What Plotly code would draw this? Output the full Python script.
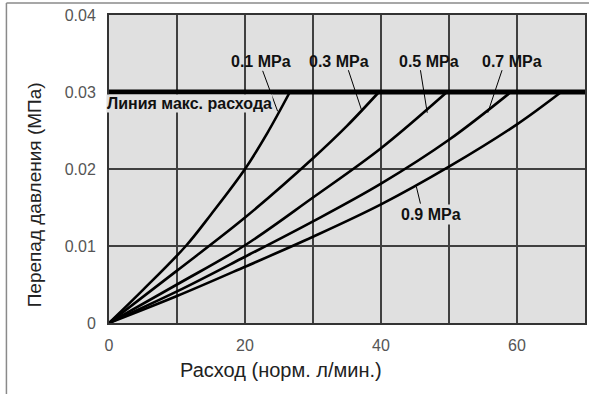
import plotly.graph_objects as go

# ---- data ----
x_01 = [0, 5, 11.3, 15, 20, 23.3, 26.6]
y_01 = [0, 0.0043, 0.0100, 0.0141, 0.0200, 0.0247, 0.0300]

x_03 = [0, 10, 20, 30, 35, 39.7]
y_03 = [0, 0.0068, 0.0137, 0.0214, 0.0256, 0.0300]

x_05 = [0, 10, 20, 30, 40, 49.7]
y_05 = [0, 0.0050, 0.0101, 0.0163, 0.0227, 0.0300]

x_07 = [0, 10, 20, 30, 40, 50, 59.1]
y_07 = [0, 0.0041, 0.0086, 0.0132, 0.0181, 0.0238, 0.0300]

x_09 = [0, 10, 20, 30, 40, 50, 60, 66.5]
y_09 = [0, 0.0035, 0.0073, 0.0112, 0.0154, 0.0203, 0.0258, 0.0300]

series_names = ["0.1 MPa", "0.3 MPa", "0.5 MPa", "0.7 MPa", "0.9 MPa"]
series_x = [x_01, x_03, x_05, x_07, x_09]
series_y = [y_01, y_03, y_05, y_07, y_09]

maxflow_x = [0, 70]
maxflow_y = [0.03, 0.03]
maxflow_label = "Линия макс. расхода"

x_tick_vals = [0, 10, 20, 30, 40, 50, 60, 70]
x_tick_text = ["0", "", "20", "", "40", "", "60", ""]
y_tick_vals = [0, 0.01, 0.02, 0.03, 0.04]
y_tick_text = ["0", "0.01", "0.02", "0.03", "0.04"]

x_title = "Расход (норм. л/мин.)"
y_title = "Перепад давления (МПа)"

# ---- layout constants ----
W, H = 591, 394
L, R, T, B = 109, 4, 15, 71
PW, PH = W - L - R, H - T - B
PLOT_BG = "#e0e0e0"
FONT = "Liberation Sans, Arial, sans-serif"

fig = go.Figure()

for name, xs, ys in zip(series_names, series_x, series_y):
    fig.add_trace(go.Scatter(x=xs, y=ys, mode="lines", name=name,
                             line=dict(color="#000000", width=2.6, shape="spline",
                                       smoothing=1.0),
                             hoverinfo="skip", showlegend=False))

fig.add_trace(go.Scatter(x=maxflow_x, y=maxflow_y, mode="lines",
                         name=maxflow_label,
                         line=dict(color="#000000", width=5),
                         hoverinfo="skip", showlegend=False))

lbl_font = dict(family=FONT, size=16, color="#111111", weight="bold")

# curve labels (text position, leader start, leader end)
label_specs = [
    ("0.1 MPa", 22.4, 0.0340, (22.6, 0.03275), (24.8, 0.0275), None),
    ("0.3 MPa", 33.8, 0.0340, (35.2, 0.03283), (37.2, 0.0275), None),
    ("0.5 MPa", 47.0, 0.0340, (45.8, 0.03283), (46.8, 0.0273), None),
    ("0.7 MPa", 59.2, 0.0340, (57.8, 0.03283), (55.7, 0.0273), None),
    ("0.9 MPa", 47.3, 0.0141, (45.2, 0.0177), (45.8, 0.0155), PLOT_BG),
]
annotations = []
shapes = []
for text, tx, ty, p0, p1, bg in label_specs:
    ann = dict(x=tx, y=ty, xref="x", yref="y", text=text, showarrow=False,
               font=lbl_font, xanchor="center", yanchor="middle")
    if bg:
        ann["bgcolor"] = bg
        ann["borderpad"] = 1
    annotations.append(ann)
    shapes.append(dict(type="line", xref="x", yref="y", x0=p0[0], y0=p0[1],
                       x1=p1[0], y1=p1[1], line=dict(color="#000000", width=1)))

annotations.append(dict(x=0, y=0.0285, xref="x", yref="y", text=maxflow_label,
                        showarrow=False, xanchor="left", yanchor="middle", xshift=-3,
                        font=dict(family=FONT, size=16, color="#111111", weight="bold"),
                        bgcolor=PLOT_BG, borderpad=0))

# axis titles
annotations.append(dict(x=(282 - L) / PW, y=(H - B - 370) / PH, xref="paper", yref="paper",
                        text=x_title, showarrow=False, xanchor="center", yanchor="middle",
                        font=dict(family=FONT, size=20, color="#222222")))
annotations.append(dict(x=(34 - L) / PW, y=(H - B - 195) / PH, xref="paper", yref="paper",
                        text=y_title, showarrow=False, xanchor="center", yanchor="middle",
                        textangle=-90,
                        font=dict(family=FONT, size=19, color="#222222")))

# outer frame (left and top edges of the picture)
shapes.append(dict(type="line", xref="paper", yref="paper",
                   x0=(6 - L) / PW, x1=(6 - L) / PW,
                   y0=(H - B - H) / PH, y1=(H - B - 3) / PH,
                   line=dict(color="#8a8a8a", width=1.5)))
shapes.append(dict(type="line", xref="paper", yref="paper",
                   x0=(6 - L) / PW, x1=(W - L) / PW,
                   y0=(H - B - 3) / PH, y1=(H - B - 3) / PH,
                   line=dict(color="#8a8a8a", width=1.5)))

fig.update_layout(
    width=W, height=H,
    margin=dict(l=L, r=R, t=T, b=B, pad=0),
    paper_bgcolor="#ffffff", plot_bgcolor=PLOT_BG,
    font=dict(family=FONT),
    annotations=annotations, shapes=shapes,
    showlegend=False,
)
fig.update_xaxes(range=[0, 70], tickvals=x_tick_vals, ticktext=x_tick_text,
                 showgrid=True, gridcolor="#404040", gridwidth=1.5,
                 showline=True, linecolor="#333333", linewidth=2, mirror=True,
                 zeroline=False, ticks="", ticklabelstandoff=7,
                 tickfont=dict(family=FONT, size=16, color="#555555"))
fig.update_yaxes(range=[0, 0.04], tickvals=y_tick_vals, ticktext=y_tick_text,
                 showgrid=True, gridcolor="#404040", gridwidth=1.5,
                 showline=True, linecolor="#333333", linewidth=2, mirror=True,
                 zeroline=False, ticks="", ticklabelstandoff=8,
                 tickfont=dict(family=FONT, size=16, color="#555555"))

fig.write_html("out.html",
               config={"displayModeBar": False},
               post_script="document.body.style.margin='0px';"
                           "document.body.style.overflow='hidden';")
